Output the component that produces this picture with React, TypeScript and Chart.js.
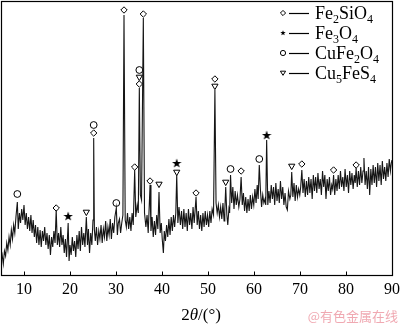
import React, { useEffect, useRef } from 'react';
import { Chart, registerables } from 'chart.js';

Chart.register(...registerables);

// XRD trace: [2θ (°), intensity (a.u.)]
const trace5to25: [number, number][] = [
  [5.0, 14], [5.25, 20], [5.5, 11], [5.75, 24], [6.0, 19], [6.25, 32], [6.5, 25], [6.75, 38], [7.0, 30], [7.25, 45],
  [7.5, 36], [7.75, 50], [8.0, 42], [8.25, 58], [8.55, 73], [8.75, 46], [9.0, 62], [9.25, 52], [9.5, 66], [9.75, 55],
  [10.0, 70], [10.25, 50], [10.5, 62], [10.75, 46], [11.0, 58], [11.25, 44], [11.5, 60], [11.75, 42], [12.0, 55], [12.25, 38],
  [12.5, 50], [12.75, 32], [13.0, 48], [13.25, 30], [13.5, 45], [13.75, 28], [14.0, 44], [14.25, 34], [14.5, 48], [14.75, 30],
  [15.0, 42], [15.25, 26], [15.5, 40], [15.75, 20], [16.0, 38], [16.25, 28], [16.5, 44], [16.75, 32], [17.0, 65], [17.25, 30],
  [17.5, 42], [17.75, 28], [18.0, 48], [18.25, 30], [18.5, 40], [18.75, 22], [19.0, 36], [19.25, 18], [19.6, 52], [19.8, 14],
  [20.0, 30], [20.25, 20], [20.5, 38], [20.75, 24], [21.0, 34], [21.25, 18], [21.5, 40], [21.75, 26], [22.0, 44], [22.25, 24],
  [22.5, 48], [22.75, 30], [23.0, 42], [23.25, 28], [23.55, 58], [23.8, 30], [24.0, 46], [24.25, 22], [24.5, 42], [24.75, 30],
  [25.0, 55],
];

const trace25to41: [number, number][] = [
  [25.15, 137], [25.3, 45], [25.5, 34], [25.75, 48], [26.0, 30], [26.25, 44], [26.5, 36], [26.75, 50], [27.0, 32], [27.25, 46],
  [27.5, 38], [27.75, 54], [28.0, 34], [28.25, 48], [28.5, 40], [28.75, 56], [29.0, 36], [29.25, 52], [29.5, 42], [29.75, 58],
  [30.07, 67], [30.3, 40], [30.5, 52], [30.75, 56], [31.0, 42], [31.25, 52], [31.5, 60], [31.74, 260], [32.0, 55], [32.25, 48],
  [32.5, 62], [32.75, 46], [33.0, 58], [33.25, 44], [33.5, 62], [33.75, 50], [34.06, 105], [34.3, 58], [34.6, 70], [34.85, 62],
  [35.07, 187], [35.3, 80], [35.55, 75], [35.94, 257], [36.2, 62], [36.5, 48], [36.75, 60], [37.0, 42], [37.4, 90], [37.6, 44],
  [37.85, 58], [38.1, 38], [38.35, 54], [38.6, 40], [38.85, 60], [39.1, 46], [39.35, 83], [39.6, 42], [39.85, 52], [40.05, 36],
  [40.3, 22], [40.5, 44], [40.75, 34],
];

const trace41to61: [number, number][] = [
  [41.0, 50], [41.25, 38], [41.5, 56], [41.75, 40], [42.0, 58], [42.25, 44], [42.5, 60], [42.75, 48], [43.0, 62], [43.2, 100],
  [43.45, 52], [43.7, 68], [44.0, 50], [44.25, 64], [44.5, 46], [44.75, 66], [45.0, 48], [45.25, 62], [45.5, 44], [45.75, 66],
  [46.0, 50], [46.25, 62], [46.5, 46], [46.75, 68], [47.0, 52], [47.4, 78], [47.65, 50], [47.9, 64], [48.15, 46], [48.4, 60],
  [48.65, 44], [48.9, 62], [49.15, 48], [49.4, 64], [49.65, 50], [49.9, 60], [50.15, 48], [50.4, 64], [50.65, 52], [50.9, 66],
  [51.2, 60], [51.5, 185], [51.75, 72], [52.0, 62], [52.25, 70], [52.5, 58], [52.75, 68], [53.0, 56], [53.25, 72], [53.5, 54],
  [53.65, 64], [53.85, 88], [54.1, 60], [54.3, 50], [54.55, 66], [54.7, 62], [54.9, 100], [55.15, 72], [55.4, 88], [55.65, 66],
  [55.9, 84], [56.15, 70], [56.4, 80], [56.7, 68], [56.95, 76], [57.2, 98], [57.45, 70], [57.7, 82], [57.95, 64], [58.2, 78],
  [58.45, 62], [58.7, 76], [58.95, 64], [59.2, 80], [59.45, 66], [59.7, 78], [59.95, 70], [60.2, 86], [60.45, 72], [60.7, 90],
  [60.9, 76],
];

const trace61to75: [number, number][] = [
  [61.15, 110], [61.4, 85], [61.65, 68], [61.9, 80], [62.15, 72], [62.4, 76], [62.55, 70], [62.75, 135], [63.0, 70], [63.25, 84],
  [63.5, 72], [63.75, 90], [64.0, 76], [64.25, 88], [64.5, 70], [64.75, 92], [65.0, 74], [65.25, 86], [65.5, 72], [65.75, 94],
  [66.0, 76], [66.25, 88], [66.5, 70], [66.75, 82], [67.0, 68], [67.25, 65], [67.5, 84], [67.8, 76], [68.0, 80], [68.2, 103],
  [68.45, 78], [68.7, 92], [68.95, 74], [69.2, 90], [69.45, 78], [69.7, 86], [69.95, 80], [70.15, 88], [70.4, 105], [70.65, 82],
  [70.9, 96], [71.15, 78], [71.4, 94], [71.65, 80], [71.9, 98], [72.15, 82], [72.4, 96], [72.65, 76], [72.9, 100], [73.15, 84],
  [73.4, 98], [73.65, 82], [73.9, 102], [74.15, 86], [74.4, 96], [74.65, 80], [74.9, 104],
];

const trace75to90: [number, number][] = [
  [75.15, 88], [75.4, 100], [75.65, 76], [75.9, 96], [76.15, 84], [76.4, 98], [76.65, 80], [76.9, 90], [77.1, 86], [77.3, 100],
  [77.55, 80], [77.8, 96], [78.05, 84], [78.3, 100], [78.55, 86], [78.8, 104], [79.05, 88], [79.3, 98], [79.55, 84], [79.8, 106],
  [80.05, 88], [80.3, 100], [80.55, 82], [80.8, 104], [81.05, 90], [81.3, 102], [81.55, 86], [81.8, 100], [82.0, 92], [82.2, 107],
  [82.45, 88], [82.7, 104], [82.95, 90], [83.2, 108], [83.45, 92], [83.7, 104], [83.9, 117], [84.15, 90], [84.4, 104], [84.65, 86],
  [84.9, 108], [85.15, 80], [85.4, 106], [85.65, 90], [85.9, 110], [86.15, 92], [86.4, 108], [86.65, 88], [86.9, 112], [87.15, 94],
  [87.4, 110], [87.65, 90], [87.9, 114], [88.15, 96], [88.4, 108], [88.65, 94], [88.9, 112], [89.15, 98], [89.4, 116], [89.65, 104],
  [89.85, 112], [90.0, 115],
];

// Phase marker positions: [2θ, height of marker]
const fe2sio4Marks: [number, number][] = [
  [17.0, 67], [25.15, 142], [31.74, 265], [34.06, 108], [35.07, 191], [35.94, 261], [37.4, 94],
  [47.4, 82], [51.5, 196], [57.2, 104], [70.4, 111], [77.3, 105], [82.2, 110],
];
const fe3o4Marks: [number, number][] = [[19.6, 59], [43.2, 112], [62.75, 140]];
const cufe2o4Marks: [number, number][] = [
  [8.55, 81], [25.15, 150], [30.07, 72], [35.07, 205], [54.9, 106], [61.15, 116],
];
const cu5fes4Marks: [number, number][] = [
  [23.55, 63], [35.07, 198], [39.35, 91], [43.2, 103], [51.5, 189], [53.85, 93], [68.2, 109],
];

const xTicks = [10, 20, 30, 40, 50, 60, 70, 80, 90];
const legendLabels = ['Fe{2}SiO{4}', 'Fe{3}O{4}', 'CuFe{2}O{4}', 'Cu{5}FeS{4}'];
const legendMarkers = ['diamond', 'star', 'circle', 'triangle'];
const axisTitle = ['2', 'θ', '/(°)'];
const watermark = '@有色金属在线';

const SERIF = '"Liberation Serif", "Times New Roman", serif';

function makeStar(size: number): HTMLCanvasElement {
  const c = document.createElement('canvas');
  c.width = size;
  c.height = size;
  const g = c.getContext('2d')!;
  g.beginPath();
  for (let i = 0; i < 10; i++) {
    const r = i % 2 ? size * 0.2 : size / 2;
    const a = -Math.PI / 2 + (i * Math.PI) / 5;
    g.lineTo(size / 2 + r * Math.cos(a), size / 2 + r * Math.sin(a) + size * 0.05);
  }
  g.closePath();
  g.fillStyle = '#000';
  g.fill();
  return c;
}

function drawMarker(ctx: CanvasRenderingContext2D, kind: string, x: number, y: number, s: number) {
  ctx.save();
  ctx.strokeStyle = '#000';
  ctx.fillStyle = '#000';
  ctx.lineWidth = 1;
  ctx.beginPath();
  if (kind === 'diamond') {
    ctx.moveTo(x, y - s);
    ctx.lineTo(x + s, y);
    ctx.lineTo(x, y + s);
    ctx.lineTo(x - s, y);
    ctx.closePath();
    ctx.stroke();
  } else if (kind === 'circle') {
    ctx.arc(x, y, s, 0, Math.PI * 2);
    ctx.stroke();
  } else if (kind === 'triangle') {
    ctx.moveTo(x - s, y - s * 0.7);
    ctx.lineTo(x + s, y - s * 0.7);
    ctx.lineTo(x, y + s * 0.9);
    ctx.closePath();
    ctx.stroke();
  } else {
    for (let i = 0; i < 10; i++) {
      const r = i % 2 ? s * 0.45 : s * 1.1;
      const a = -Math.PI / 2 + (i * Math.PI) / 5;
      ctx.lineTo(x + r * Math.cos(a), y + r * Math.sin(a));
    }
    ctx.closePath();
    ctx.fill();
  }
  ctx.restore();
}

function drawSubText(ctx: CanvasRenderingContext2D, label: string, x: number, y: number) {
  const parts = label.split(/(\{[^}]*\})/).filter((p) => p.length);
  let cx = x;
  for (const p of parts) {
    if (p.startsWith('{')) {
      const t = p.slice(1, -1);
      ctx.font = `12px ${SERIF}`;
      ctx.fillText(t, cx, y + 4);
      cx += ctx.measureText(t).width;
    } else {
      ctx.font = `18px ${SERIF}`;
      ctx.fillText(p, cx, y);
      cx += ctx.measureText(p).width;
    }
  }
}

const framePlugin = {
  id: 'xrdFrame',
  afterDraw(chart: any) {
    const ctx: CanvasRenderingContext2D = chart.ctx;
    const { left, top, right, bottom } = chart.chartArea;
    const xs = chart.scales.x;
    ctx.save();
    ctx.strokeStyle = '#000';
    ctx.lineWidth = 1.2;
    const l = Math.round(left) + 0.5;
    const t = Math.round(top) + 0.5;
    const r = Math.round(right) + 0.5;
    const b = Math.round(bottom) + 0.5;
    ctx.strokeRect(l, t, r - l, b - t);
    ctx.lineWidth = 1;
    for (const v of xTicks) {
      const px = Math.round(xs.getPixelForValue(v)) + 0.5;
      ctx.beginPath();
      ctx.moveTo(px, b);
      ctx.lineTo(px, b - 4);
      ctx.stroke();
    }
    // legend
    ctx.fillStyle = '#000';
    ctx.textBaseline = 'alphabetic';
    ctx.textAlign = 'left';
    legendLabels.forEach((lab, i) => {
      const cy = 13 + i * 20;
      drawMarker(ctx, legendMarkers[i], 283, cy, 2.6);
      ctx.beginPath();
      ctx.lineWidth = 1.2;
      ctx.moveTo(289, cy + 0.5);
      ctx.lineTo(309, cy + 0.5);
      ctx.stroke();
      drawSubText(ctx, lab, 315, cy + 6);
    });
    // axis title
    const y0 = 320;
    ctx.font = `17px ${SERIF}`;
    const w0 = ctx.measureText(axisTitle[0]).width;
    const w2 = ctx.measureText(axisTitle[2]).width;
    ctx.font = `italic 17px ${SERIF}`;
    const w1 = ctx.measureText(axisTitle[1]).width;
    let x0 = 201 - (w0 + w1 + w2) / 2;
    ctx.font = `17px ${SERIF}`;
    ctx.fillText(axisTitle[0], x0, y0);
    x0 += w0;
    ctx.font = `italic 17px ${SERIF}`;
    ctx.fillText(axisTitle[1], x0, y0);
    x0 += w1;
    ctx.font = `17px ${SERIF}`;
    ctx.fillText(axisTitle[2], x0, y0);
    // watermark
    ctx.font = `13px "Noto Sans CJK SC", sans-serif`;
    ctx.fillStyle = 'rgba(238, 160, 170, 0.9)';
    ctx.textAlign = 'right';
    ctx.fillText(watermark, 398, 321);
    ctx.restore();
  },
};

export default function App() {
  const ref = useRef<HTMLCanvasElement | null>(null);
  useEffect(() => {
    if (!ref.current) return;
    const trace = [...trace5to25, ...trace25to41, ...trace41to61, ...trace61to75, ...trace75to90].map(([x, y]) => ({ x, y }));
    const toPts = (a: [number, number][]) => a.map(([x, y]) => ({ x, y }));
    const star = makeStar(10);
    const chart = new Chart(ref.current, {
      type: 'scatter',
      data: {
        datasets: [
          {
            label: 'trace',
            data: trace,
            showLine: true,
            borderColor: '#151515',
            borderWidth: 1.1,
            pointRadius: 0,
            tension: 0,
          },
          {
            label: 'Fe2SiO4',
            data: toPts(fe2sio4Marks),
            pointStyle: 'rectRot',
            pointRadius: 3.2,
            borderColor: '#000',
            backgroundColor: '#fff',
            borderWidth: 1,
          },
          {
            label: 'Fe3O4',
            data: toPts(fe3o4Marks),
            pointStyle: star as any,
            pointRadius: 4,
            borderColor: '#000',
            backgroundColor: '#000',
          },
          {
            label: 'CuFe2O4',
            data: toPts(cufe2o4Marks),
            pointStyle: 'circle',
            pointRadius: 3.4,
            borderColor: '#000',
            backgroundColor: '#fff',
            borderWidth: 1,
          },
          {
            label: 'Cu5FeS4',
            data: toPts(cu5fes4Marks),
            pointStyle: 'triangle',
            rotation: 180,
            pointRadius: 3.6,
            borderColor: '#000',
            backgroundColor: '#fff',
            borderWidth: 1,
          } as any,
        ],
      },
      options: {
        animation: false,
        responsive: true,
        maintainAspectRatio: false,
        layout: { autoPadding: false, padding: { left: 1, top: 1, right: 8, bottom: 0 } },
        plugins: { legend: { display: false }, tooltip: { enabled: false } },
        scales: {
          x: {
            type: 'linear',
            min: 5,
            max: 90,
            afterBuildTicks: (scale: any) => {
              scale.ticks = xTicks.map((v) => ({ value: v }));
            },
            afterFit: (scale: any) => {
              scale.height = 50;
              scale.paddingLeft = 0;
              scale.paddingRight = 0;
            },
            grid: { display: false, drawTicks: false },
            border: { display: false },
            ticks: {
              font: { family: SERIF, size: 16 },
              color: '#000',
              padding: 5,
              maxRotation: 0,
              autoSkip: false,
            },
          },
          y: {
            type: 'linear',
            min: 0,
            max: 274,
            display: false,
          },
        },
      },
      plugins: [framePlugin],
    });
    return () => chart.destroy();
  }, []);
  return (
    <div style={{ position: 'fixed', left: 0, top: 0, width: 400, height: 325, background: '#fff' }}>
      <canvas ref={ref} />
    </div>
  );
}
